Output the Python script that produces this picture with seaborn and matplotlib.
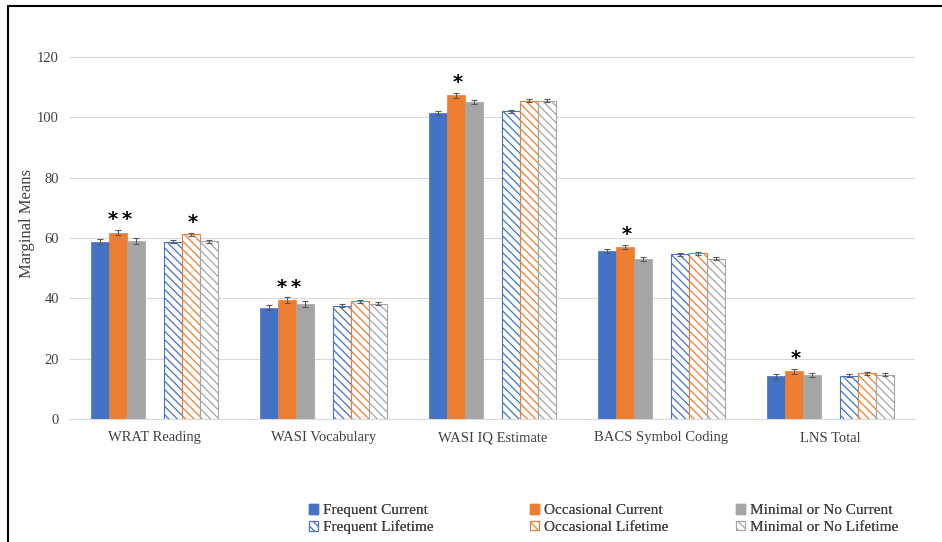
import matplotlib
matplotlib.use("Agg")
import matplotlib.pyplot as plt
import matplotlib.patches as mpatches
import seaborn as sns
import pandas as pd
import numpy as np

categories = ["WRAT Reading", "WASI Vocabulary", "WASI IQ Estimate", "BACS Symbol Coding", "LNS Total"]
series = ["Frequent Current", "Occasional Current", "Minimal or No Current",
          "Frequent Lifetime", "Occasional Lifetime", "Minimal or No Lifetime"]
frequent_current = [58.8, 36.9, 101.5, 55.7, 14.2]
occasional_current = [61.8, 39.5, 107.4, 57.0, 15.8]
minimal_current = [59.1, 38.2, 105.1, 53.0, 14.6]
frequent_lifetime = [58.8, 37.5, 102.1, 54.7, 14.3]
occasional_lifetime = [61.2, 39.0, 105.5, 54.9, 15.2]
minimal_lifetime = [59.0, 38.2, 105.5, 53.1, 14.6]
errors_current = [0.9, 0.9, 0.8, 0.7, 0.8]
errors_lifetime = [0.5, 0.5, 0.5, 0.5, 0.5]
# significance marks: (series, category) -> text
sig_marks = {("Occasional Current", "WRAT Reading"): "**",
             ("Occasional Lifetime", "WRAT Reading"): "*",
             ("Occasional Current", "WASI Vocabulary"): "**",
             ("Occasional Current", "WASI IQ Estimate"): "*",
             ("Occasional Current", "BACS Symbol Coding"): "*",
             ("Occasional Current", "LNS Total"): "*"}

values = [frequent_current, occasional_current, minimal_current,
          frequent_lifetime, occasional_lifetime, minimal_lifetime]
errs = [errors_current] * 3 + [errors_lifetime] * 3
colors = ["#4472C4", "#ED7D31", "#A5A5A5", "#4472C4", "#ED7D31", "#A5A5A5"]

GAP = "_gap_"
hue_order = series[:3] + [GAP] + series[3:]
rows = []
for s, v in zip(series, values):
    for c, val in zip(categories, v):
        rows.append({"Measure": c, "Group": s, "Value": val})
for c in categories:
    rows.append({"Measure": c, "Group": GAP, "Value": 0.0})
df = pd.DataFrame(rows)

sns.set_theme(style="white")
plt.rcParams["font.family"] = ["Liberation Serif", "DejaVu Serif"]
plt.rcParams["hatch.linewidth"] = 0.9

fig = plt.figure(figsize=(9.42, 5.42), dpi=100)
ax = fig.add_axes([70 / 942, 1 - 419 / 542, (915 - 70) / 942, (419 - 27) / 542])

palette = {s: c for s, c in zip(series, colors)}
palette[GAP] = "#FFFFFF"
sns.barplot(data=df, x="Measure", y="Value", hue="Group", hue_order=hue_order,
            order=categories, palette=palette, errorbar=None, width=0.75,
            saturation=1, ax=ax, legend=False)

series_containers = [c for c, h in zip(ax.containers, hue_order) if h != GAP]
gap_container = ax.containers[hue_order.index(GAP)]
for p in gap_container:
    p.set_visible(False)

for i, (cont, s) in enumerate(zip(series_containers, series)):
    lifetime = i >= 3
    for j, p in enumerate(cont):
        if lifetime:
            p.set_facecolor("white")
            p.set_edgecolor(colors[i])
            p.set_hatch("\\\\\\\\")
            p.set_linewidth(0.8)
        else:
            p.set_edgecolor(colors[i])
            p.set_linewidth(0.5)
        xc = p.get_x() + p.get_width() / 2
        h = p.get_height()
        ax.errorbar(xc, h, yerr=errs[i][j], color="#595959", capsize=2.5,
                    elinewidth=0.8, capthick=0.8, fmt="none", zorder=5)
        key = (s, categories[j])
        if key in sig_marks:
            txt = "\u2009".join(sig_marks[key])
            ax.text(xc + 0.01, h + errs[i][j] + 0.2, txt, ha="center", va="bottom",
                    fontsize=14, fontweight="bold", color="black", family="DejaVu Sans")

ax.set_ylim(0, 130)
ax.set_xlim(-0.5, 4.5)
ax.set_yticks([0, 20, 40, 60, 80, 100, 120])
ax.yaxis.grid(True, color="#D9D9D9", linewidth=0.8)
ax.set_axisbelow(True)
for sp in ["top", "right", "left"]:
    ax.spines[sp].set_visible(False)
ax.spines["bottom"].set_color("#D9D9D9")
ax.spines["bottom"].set_linewidth(0.8)
ax.tick_params(axis="both", length=0, labelsize=10.5, colors="#404040", pad=8)
ax.tick_params(axis="x", pad=9)
ax.set_xlabel("")
ax.set_ylabel("Marginal Means", fontsize=12, color="#404040")
ax.yaxis.set_label_coords((35 - 70) / 845, 0.5)

legend_cols = [[0, 3], [1, 4], [2, 5]]
col_x = [309, 530, 736]
for col, x0 in zip(legend_cols, col_x):
    handles = []
    labels = []
    for i in col:
        if i >= 3:
            h = mpatches.Patch(facecolor="white", edgecolor=colors[i], hatch="\\\\\\\\", linewidth=0.8)
        else:
            h = mpatches.Patch(facecolor=colors[i], edgecolor=colors[i])
        handles.append(h)
        labels.append(series[i])
    leg = fig.legend(handles, labels, ncol=1, loc="center left",
                     bbox_to_anchor=(x0 / 942, 1 - 519 / 542),
                     frameon=False, fontsize=11, handlelength=0.6, handleheight=0.6,
                     handletextpad=0.3, labelspacing=0.2, labelcolor="#404040",
                     borderpad=0, borderaxespad=0)
    fig.add_artist(leg)

# outer frame
fig.add_artist(plt.Line2D([8 / 942, 8 / 942], [0, 1 - 6 / 542], color="black", linewidth=1.5,
                          transform=fig.transFigure))
fig.add_artist(plt.Line2D([8 / 942, 1], [1 - 6 / 542, 1 - 6 / 542], color="black", linewidth=1.5,
                          transform=fig.transFigure))

fig.savefig("out.png", dpi=100)
